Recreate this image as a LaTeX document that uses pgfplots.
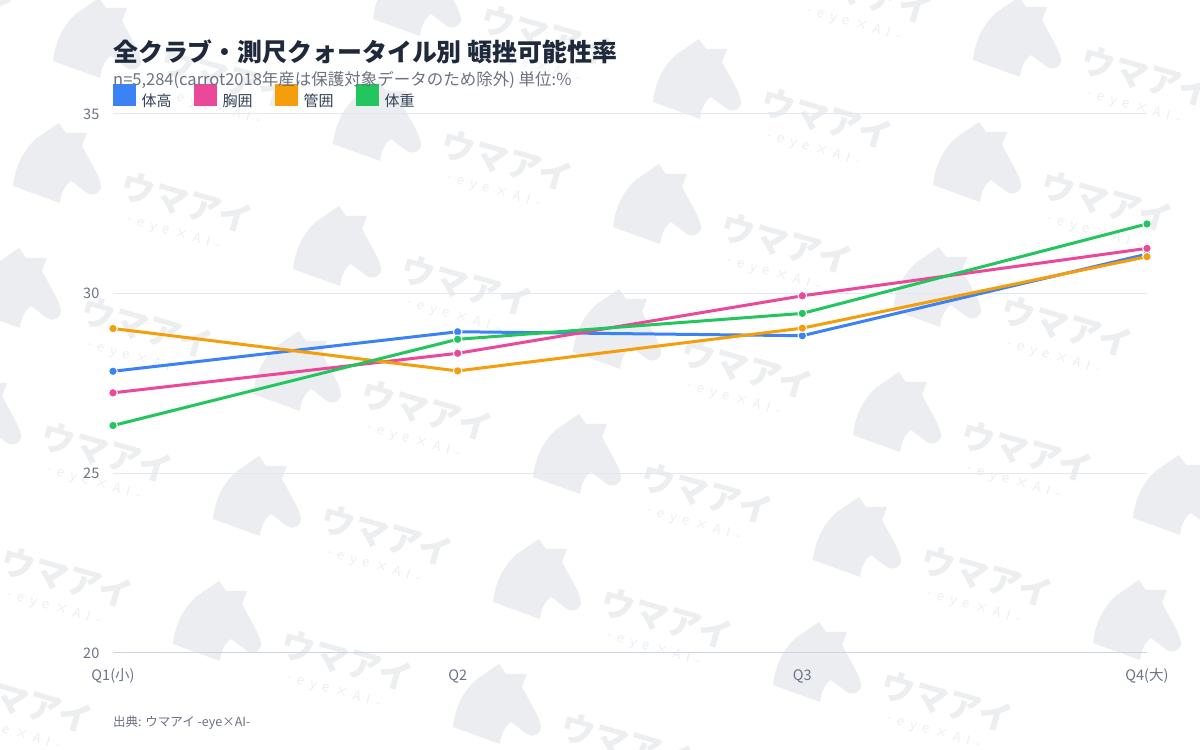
\documentclass[border=0pt]{standalone}
\usepackage{fontspec}
\setmainfont{Noto Sans CJK JP}
\usepackage{pgfplots}
\pgfplotsset{compat=1.18}
\definecolor{c1}{HTML}{3B82F6}
\definecolor{c2}{HTML}{EC4899}
\definecolor{c3}{HTML}{F59E0B}
\definecolor{c4}{HTML}{22C55E}
\definecolor{titlec}{HTML}{1E293B}
\definecolor{subc}{HTML}{6B7280}
\definecolor{tickc}{HTML}{6B7585}
\definecolor{legc}{HTML}{334155}
\definecolor{gridc}{HTML}{E2E8F0}
\definecolor{basec}{HTML}{CBD5E1}
\definecolor{wmh}{HTML}{EBEDF0}
\definecolor{wmt}{HTML}{ECEEF0}
\begin{document}
\begin{tikzpicture}[x=1bp,y=1bp]
\path[use as bounding box] (0,0) rectangle (1200,750);
\fill[white] (0,0) rectangle (1200,750);
% watermark
\begin{scope}
\clip (0,0) rectangle (1200,750);
\foreach \a in {-1,...,5}{
 \foreach \b in {-2,...,7}{
  \pgfmathsetmacro\X{187+320*\a-40*\b}
  \pgfmathsetmacro\Y{750-(203-42*\a+125*\b)}
  \pgfmathtruncatemacro\ok{(\X>-60)&&(\X<1330)&&(\Y>-30)&&(\Y<800)}
  \ifnum\ok=1
  \begin{scope}[shift={(\X,\Y)}]
   \begin{scope}[shift={(-130,40)}]
    \fill[wmh] (-44,-23) .. controls (-42,-5) and (-35,12) .. (-20,25)
      -- (2,40) -- (9,30) -- (30,30) -- (25,17)
      .. controls (34,0) and (42,-12) .. (44,-22)
      .. controls (45,-30) and (36,-34) .. (30,-30)
      -- (14,-18) .. controls (8,-22) and (4,-30) .. (3,-40) -- cycle;
   \end{scope}
   \node[rotate=-16, text=wmt, inner sep=0pt, font=\fontsize{34bp}{34bp}\selectfont\bfseries] at (0,0) {ウマアイ};
   \node[rotate=-16, text=wmt, inner sep=0pt, font=\fontsize{13bp}{13bp}\selectfont] at (-13,-30) {-\hspace{6bp}e\hspace{6bp}y\hspace{6bp}e\hspace{6bp}×\hspace{6bp}A\hspace{6bp}I\hspace{6bp}-};
  \end{scope}
  \fi
 }
}
\end{scope}
\begin{axis}[
 at={(113bp,97bp)}, anchor=south west,
 width=1034bp, height=539bp, scale only axis,
 xmin=0, xmax=3, ymin=20, ymax=35,
 xtick={0,1,2,3}, xticklabels={Q1(小),Q2,Q3,Q4(大)},
 ytick={20,25,30,35},
 axis line style={draw=none},
 major tick length=0pt,
 tick style={draw=none},
 ymajorgrids,
 grid style={draw=gridc, line width=1bp},
 /pgf/number format/assume math mode=true,
 ticklabel style={font=\fontsize{14.5bp}{14.5bp}\selectfont, text=tickc, inner sep=0pt},
 yticklabel style={anchor=east, xshift=-13.5bp},
 xticklabel style={anchor=base, yshift=-28bp},
 clip=false,
 legend columns=4,
 legend style={at={(0,1.0111)}, anchor=south west, draw=none, fill=none,
   inner sep=0pt, outer sep=0pt, text=legc,
   font=\fontsize{15bp}{15bp}\selectfont,
   nodes={inner sep=0pt},
   /tikz/every odd column/.append style={column sep=5.5bp},
   /tikz/every even column/.append style={column sep=22.5bp}},
 legend image code/.code={\fill[#1] (0bp,-4bp) rectangle (20bp,15bp);},
 every axis plot/.append style={line width=3bp, mark=*, mark size=4.3bp, mark options={line width=1bp, draw=white}},
]
\draw[basec, line width=1bp] (axis cs:0,20) -- (axis cs:3,20);
\addplot[color=c1] coordinates {(0,27.84) (1,28.94) (2,28.83) (3,31.10)};
\addlegendentry{体高}
\addplot[color=c2] coordinates {(0,27.24) (1,28.34) (2,29.94) (3,31.26)};
\addlegendentry{胸囲}
\addplot[color=c3] coordinates {(0,29.03) (1,27.85) (2,29.04) (3,31.03)};
\addlegendentry{管囲}
\addplot[color=c4] coordinates {(0,26.33) (1,28.73) (2,29.45) (3,31.94)};
\addlegendentry{体重}
\end{axis}
\node[anchor=west, inner sep=0pt, text=titlec, font=\fontsize{24.9bp}{28bp}\selectfont\bfseries] at (113,698) {全クラブ・測尺クォータイル別 頓挫可能性率};
\node[anchor=west, inner sep=0pt, text=subc, font=\fontsize{16.5bp}{18bp}\selectfont] at (113,670) {n=5,284(carrot2018年産は保護対象データのため除外) 単位:\%};
\node[anchor=west, inner sep=0pt, text=subc, font=\fontsize{12.5bp}{14bp}\selectfont] at (113,27) {出典: ウマアイ -eye×AI-};
\end{tikzpicture}
\end{document}
